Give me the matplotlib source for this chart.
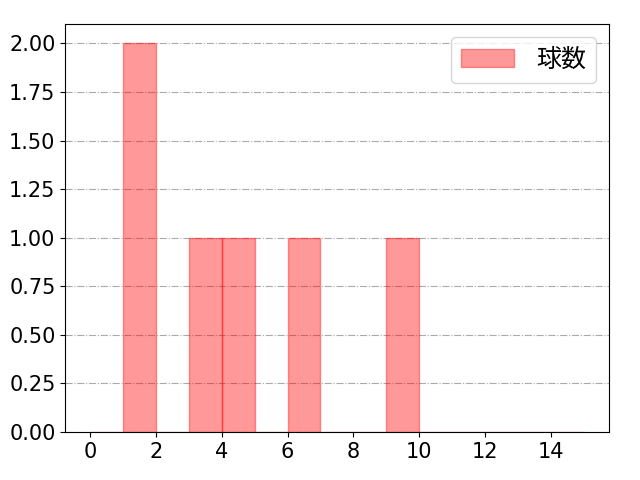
import matplotlib
matplotlib.use("Agg")
import matplotlib.pyplot as plt

plt.rcParams['font.family'] = ['DejaVu Sans', 'Noto Sans CJK JP']
plt.rcParams['font.size'] = 15

# pitch counts (one value per entry)
pitches = [1, 1, 3, 4, 6, 9]
bins = list(range(0, 16))
label = "球数"

fig, ax = plt.subplots(figsize=(6.4, 4.8), dpi=100)
ax.hist(pitches, bins=bins, color="red", alpha=0.4, edgecolor="red", label=label)
ax.grid(axis="y", linestyle="-.", color="#aaaaaa")
ax.set_axisbelow(True)
ax.set_xticks(range(0, 15, 2))
ax.yaxis.set_major_formatter(matplotlib.ticker.FormatStrFormatter("%.2f"))
ax.legend(loc="upper right", prop={'family': ['Noto Sans CJK JP'], 'size': 18},
          handlelength=2.1, handletextpad=0.9)
fig.subplots_adjust(left=0.102, right=0.951, top=0.95, bottom=0.1)
plt.savefig("out.png")
